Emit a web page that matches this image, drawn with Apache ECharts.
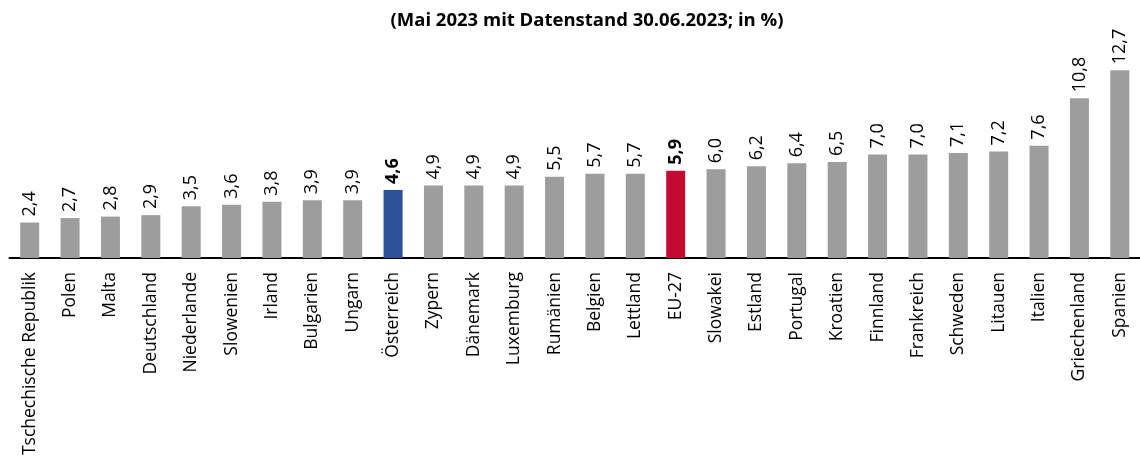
<!DOCTYPE html>
<html>
<head>
<meta charset="utf-8">
<script src="https://cdn.jsdelivr.net/npm/echarts@6/dist/echarts.min.js"></script>
<style>
  html, body { margin: 0; padding: 0; background: #fff; }
  #chart { width: 1140px; height: 466px; }
</style>
</head>
<body>
<div id="chart"></div>
<script>
var countries = [
    'Tschechische Republik', 'Polen', 'Malta', 'Deutschland', 'Niederlande',
    'Slowenien', 'Irland', 'Bulgarien', 'Ungarn', 'Österreich', 'Zypern',
    'Dänemark', 'Luxemburg', 'Rumänien', 'Belgien', 'Lettland', 'EU-27',
    'Slowakei', 'Estland', 'Portugal', 'Kroatien', 'Finnland', 'Frankreich',
    'Schweden', 'Litauen', 'Italien', 'Griechenland', 'Spanien'
];
var rates = [
    2.4, 2.7, 2.8, 2.9, 3.5, 3.6, 3.8, 3.9, 3.9, 4.6, 4.9,
    4.9, 4.9, 5.5, 5.7, 5.7, 5.9, 6.0, 6.2, 6.4, 6.5, 7.0, 7.0,
    7.1, 7.2, 7.6, 10.8, 12.7
];
var highlight = { 'Österreich': '#2a5199', 'EU-27': '#c30b32' };

var chart_element = document.getElementById('chart');
var chart = echarts.init(chart_element);

var barData = rates.map(function (v, i) {
    var name = countries[i];
    var item = { value: v, itemStyle: { color: highlight[name] || '#9d9d9d' } };
    if (highlight[name]) {
        item.label = { fontWeight: 'bold' };
    }
    return item;
});

chart.setOption({
    animation: false,
    textStyle: {
        fontFamily: '"Open Sans", sans-serif'
    },
    title: {
        text: '(Mai 2023 mit Datenstand 30.06.2023; in %)',
        left: 582,
        textAlign: 'center',
        top: 6,
        textStyle: {
            fontSize: 18.5,
            fontWeight: 'bold',
            color: '#000'
        }
    },
    grid: {
        left: 9.5,
        top: 51,
        width: 1135,
        bottom: 208,
        containLabel: false
    },
    xAxis: {
        type: 'category',
        data: countries,
        axisLine: { lineStyle: { color: '#000', width: 2 } },
        axisTick: { show: false },
        axisLabel: {
            rotate: 90,
            interval: 0,
            fontSize: 17.5,
            color: '#000',
            margin: 14
        }
    },
    yAxis: {
        type: 'value',
        min: 0,
        max: 14,
        show: false,
        splitLine: { show: false }
    },
    series: [{
        type: 'bar',
        barWidth: 19,
        data: barData,
        label: {
            show: true,
            position: 'top',
            rotate: 90,
            align: 'left',
            verticalAlign: 'middle',
            distance: 6,
            fontSize: 18,
            color: '#000',
            formatter: function (p) {
                return p.value.toFixed(1).replace('.', ',');
            }
        }
    }]
});
</script>
</body>
</html>
